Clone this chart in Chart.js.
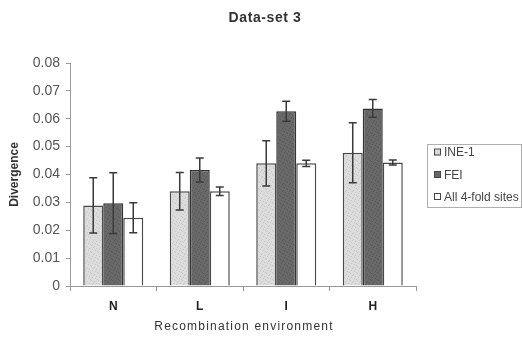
<!DOCTYPE html>
<html>
<head>
<meta charset="utf-8">
<script src="https://cdn.jsdelivr.net/npm/chart.js@4/dist/chart.umd.min.js"></script>
<style>
html,body{margin:0;padding:0;background:#fff;}
#wrap{width:523px;height:341px;position:relative;}
</style>
</head>
<body>
<div id="wrap"><canvas id="c" width="523" height="341"></canvas></div>
<script>
// ---- data ----
const categories = ['N', 'L', 'I', 'H'];
const seriesNames = ['INE-1', 'FEI', 'All 4-fold sites'];
const ine1 = [0.0289, 0.0340, 0.0440, 0.0478];
const ine1Err = [0.0099, 0.0067, 0.0081, 0.0108];
const fei = [0.0297, 0.0416, 0.0627, 0.0637];
const feiErr = [0.0109, 0.0043, 0.0036, 0.0032];
const all4 = [0.0245, 0.0340, 0.0440, 0.0443];
const all4Err = [0.0054, 0.0015, 0.0011, 0.0009];
const yTicks = [0, 0.01, 0.02, 0.03, 0.04, 0.05, 0.06, 0.07, 0.08];

const FONT = '"Liberation Sans", Arial, sans-serif';

function makePattern(base, dot) {
  const p = document.createElement('canvas');
  p.width = 7; p.height = 7;
  const g = p.getContext('2d');
  g.fillStyle = base; g.fillRect(0, 0, 7, 7);
  g.fillStyle = dot;
  [[0,0],[3,1],[5,3],[1,4],[4,5],[6,6],[2,2]].forEach(([x, y]) => g.fillRect(x, y, 1, 1));
  return document.createElement('canvas').getContext('2d').createPattern(p, 'repeat');
}
const fillIne = makePattern('#dcdcdc', '#cacaca');
const fillFei = makePattern('#686868', '#5a5a5a');
const fills = [fillIne, fillFei, '#ffffff'];
const errs = [ine1Err, feiErr, all4Err];

const errorBarPlugin = {
  id: 'errorBars',
  afterDatasetsDraw(chart) {
    const ctx = chart.ctx;
    const ys = chart.scales.y;
    ctx.save();
    ctx.strokeStyle = '#3a3a3a';
    ctx.lineWidth = 1.5;
    chart.data.datasets.forEach((ds, di) => {
      const meta = chart.getDatasetMeta(di);
      meta.data.forEach((el, i) => {
        const v = ds.data[i], e = errs[di][i];
        const yt = ys.getPixelForValue(v + e);
        const yb = ys.getPixelForValue(v - e);
        const x = el.x;
        ctx.beginPath();
        ctx.moveTo(x, yt); ctx.lineTo(x, yb);
        ctx.moveTo(x - 4, yt); ctx.lineTo(x + 4, yt);
        ctx.moveTo(x - 4, yb); ctx.lineTo(x + 4, yb);
        ctx.stroke();
      });
    });
    ctx.restore();
  }
};

const extrasPlugin = {
  id: 'extras',
  afterDraw(chart) {
    const ctx = chart.ctx;
    const ca = chart.chartArea;
    ctx.save();
    ctx.textBaseline = 'middle';
    // chart title
    ctx.fillStyle = '#333';
    ctx.font = 'bold 14px ' + FONT;
    ctx.textAlign = 'center';
    try { ctx.letterSpacing = '0.6px'; } catch (e) {}
    ctx.fillText('Data-set 3', 265, 18.5);
    // x axis title
    ctx.font = '12px ' + FONT;
    try { ctx.letterSpacing = '1.2px'; } catch (e) {}
    ctx.fillText('Recombination environment', (ca.left + ca.right) / 2 + 1, 327);
    try { ctx.letterSpacing = '0px'; } catch (e) {}
    // legend
    const lx = 427, ly = 144, lw = 94, lh = 63;
    ctx.strokeStyle = '#b0b0b0';
    ctx.lineWidth = 1;
    ctx.strokeRect(lx + 0.5, ly + 0.5, lw, lh);
    const rows = [152.5, 175, 197];
    ctx.font = '12px ' + FONT;
    ctx.textAlign = 'left';
    seriesNames.forEach((name, i) => {
      const y = rows[i];
      ctx.fillStyle = i === 0 ? '#d8d8d8' : (i === 1 ? '#666' : '#fff');
      ctx.fillRect(434, y - 3, 6, 6);
      ctx.strokeStyle = '#444';
      ctx.strokeRect(434.5, y - 3.5, 6, 6);
      ctx.fillStyle = '#444';
      ctx.fillText(name, 444, y + 0.5);
    });
    ctx.restore();
  }
};

new Chart(document.getElementById('c'), {
  type: 'bar',
  data: {
    labels: categories,
    datasets: [
      { label: seriesNames[0], data: ine1, backgroundColor: fills[0], borderColor: '#4a4a4a', borderWidth: 1.5 },
      { label: seriesNames[1], data: fei, backgroundColor: fills[1], borderColor: '#333', borderWidth: 1.5 },
      { label: seriesNames[2], data: all4, backgroundColor: fills[2], borderColor: '#4a4a4a', borderWidth: 1.5 }
    ]
  },
  options: {
    responsive: false,
    animation: false,
    layout: { padding: { left: 0, right: 107, top: 63, bottom: 0 } },
    datasets: { bar: { categoryPercentage: 0.694, barPercentage: 1.0 } },
    plugins: {
      legend: { display: false },
      tooltip: { enabled: false },
      title: { display: false }
    },
    scales: {
      x: {
        offset: true,
        grid: { display: true, drawOnChartArea: false, offset: true, tickLength: 5, color: '#999' },
        border: { display: true, color: '#999', width: 1 },
        ticks: { color: '#222', padding: 8, font: { family: FONT, size: 12, weight: 'bold' } },
        afterFit(s) { s.height = 55; }
      },
      y: {
        min: 0, max: 0.08,
        afterBuildTicks(s) { s.ticks = yTicks.map(v => ({ value: v })); },
        grid: { display: true, drawOnChartArea: false, tickLength: 4, color: '#999' },
        border: { display: true, color: '#999', width: 1 },
        ticks: {
          color: '#555', padding: 6,
          font: { family: FONT, size: 14 },
          callback: v => v === 0 ? '0' : v.toFixed(2)
        },
        title: {
          display: true, text: 'Divergence', color: '#333',
          font: { family: FONT, size: 12, weight: 'bold' },
          padding: { top: 7, bottom: 0 }
        },
        afterFit(s) { s.width = 70; }
      }
    }
  },
  plugins: [errorBarPlugin, extrasPlugin]
});
</script>
</body>
</html>
